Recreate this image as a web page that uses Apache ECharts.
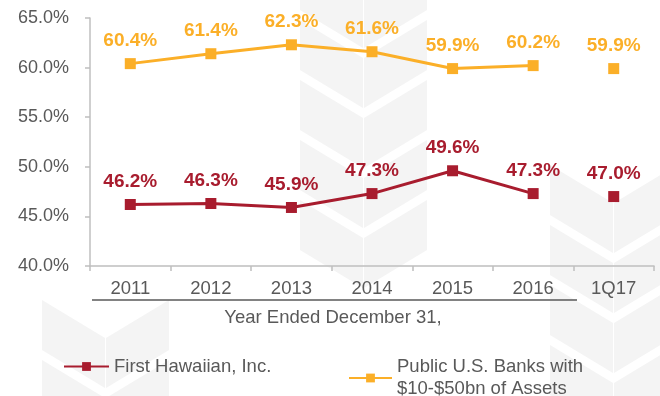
<!DOCTYPE html>
<html>
<head>
<meta charset="utf-8">
<script src="https://cdn.jsdelivr.net/npm/echarts@6/dist/echarts.min.js"></script>
<style>
  html, body { margin: 0; padding: 0; background: #ffffff; }
  #chart { width: 660px; height: 396px; }
</style>
</head>
<body>
<div id="chart"></div>
<script>
// Efficiency ratio: First Hawaiian vs. peer banks
const categories = ['2011', '2012', '2013', '2014', '2015', '2016', '1Q17'];
const firstHawaiianYears = [46.2, 46.3, 45.9, 47.3, 49.6, 47.3, null];
const firstHawaiianQuarter = [null, null, null, null, null, null, 47.0];
const peerBanksYears = [60.4, 61.4, 62.3, 61.6, 59.9, 60.2, null];
const peerBanksQuarter = [null, null, null, null, null, null, 59.9];
const yTicks = { min: 40, max: 65, step: 5 };

const NAME_FH = 'First Hawaiian, Inc.';
const NAME_PEER = 'Public U.S. Banks with\n$10-$50bn of Assets';

const RED = '#A81C2E';
const GOLD = '#FBAF28';
const GREY = '#595959';
const FONT = 'Liberation Sans, Arial, sans-serif';

function lineSeries(name, data, color) {
  return {
    name: name,
    type: 'line',
    data: data,
    color: color,
    symbol: 'rect',
    symbolSize: 11,
    lineStyle: { width: 3, color: color },
    itemStyle: { color: color },
    label: {
      show: true,
      position: 'top',
      distance: 8,
      color: color,
      fontFamily: FONT,
      fontSize: 19,
      fontWeight: 'bold',
      formatter: p => p.value.toFixed(1) + '%'
    },
    emphasis: { disabled: true },
    animation: false,
    z: 3
  };
}

// Faint chevron watermark in the background: columns of stacked "V" bands
function chevronColumn(cx, tops) {
  const w = 63, drop = 38, thick = 50, fill = '#F4F4F4';
  const out = [];
  tops.forEach(y => {
    out.push({
      type: 'polygon', silent: true, z: -10,
      shape: { points: [[cx - w, y], [cx, y + drop], [cx, y + drop + thick], [cx - w, y + thick]] },
      style: { fill: fill }
    });
    out.push({
      type: 'polygon', silent: true, z: -10,
      shape: { points: [[cx + 1, y + drop], [cx + 1 + w, y], [cx + 1 + w, y + thick], [cx + 1, y + drop + thick]] },
      style: { fill: fill }
    });
  });
  return out;
}
const watermark = [].concat(
  chevronColumn(105, [300, 360]),
  chevronColumn(363, [-40, 20, 80, 140, 200]),
  chevronColumn(613, [165, 225, 285, 345])
);

const chart = echarts.init(document.getElementById('chart'));
chart.setOption({
  backgroundColor: '#ffffff',
  grid: { left: 90, right: 6, top: 18, bottom: 130 },
  xAxis: {
    type: 'category',
    data: categories,
    boundaryGap: true,
    axisLine: { lineStyle: { color: '#BFBFBF', width: 1.5 } },
    axisTick: { show: true, length: 5, lineStyle: { color: '#BFBFBF', width: 1.5 } },
    axisLabel: { color: GREY, fontFamily: FONT, fontSize: 18.5, margin: 13 }
  },
  yAxis: {
    type: 'value',
    min: yTicks.min,
    max: yTicks.max,
    interval: yTicks.step,
    splitLine: { show: false },
    axisLine: { show: true, lineStyle: { color: '#BFBFBF', width: 1.5 } },
    axisTick: { show: true, length: 5, lineStyle: { color: '#BFBFBF', width: 1.5 } },
    axisLabel: {
      color: GREY, fontFamily: FONT, fontSize: 18, margin: 21,
      formatter: v => v.toFixed(1) + '%'
    }
  },
  legend: [
    {
      left: 63, top: 357, padding: 0,
      itemWidth: 45, itemHeight: 11,
      selectedMode: false,
      textStyle: { color: GREY, fontFamily: FONT, fontSize: 18.5 },
      data: [NAME_FH]
    },
    {
      left: 348, top: 345, padding: 0,
      itemWidth: 43, itemHeight: 11,
      selectedMode: false,
      textStyle: {
        color: GREY, fontFamily: FONT, fontSize: 18.5,
        lineHeight: 22, padding: [22, 0, 0, 0], align: 'left'
      },
      data: [NAME_PEER]
    }
  ],
  graphic: watermark.concat([
    {
      type: 'line',
      shape: { x1: 92, y1: 300, x2: 577, y2: 300 },
      style: { stroke: GREY, lineWidth: 1.5 }
    },
    {
      type: 'text',
      x: 333, y: 318,
      style: {
        text: 'Year Ended December 31,',
        fill: GREY, font: '18.5px ' + FONT,
        textAlign: 'center', textVerticalAlign: 'middle'
      }
    }
  ]),
  series: [
    lineSeries(NAME_FH, firstHawaiianYears, RED),
    lineSeries(NAME_FH, firstHawaiianQuarter, RED),
    lineSeries(NAME_PEER, peerBanksYears, GOLD),
    lineSeries(NAME_PEER, peerBanksQuarter, GOLD)
  ]
});
</script>
</body>
</html>
